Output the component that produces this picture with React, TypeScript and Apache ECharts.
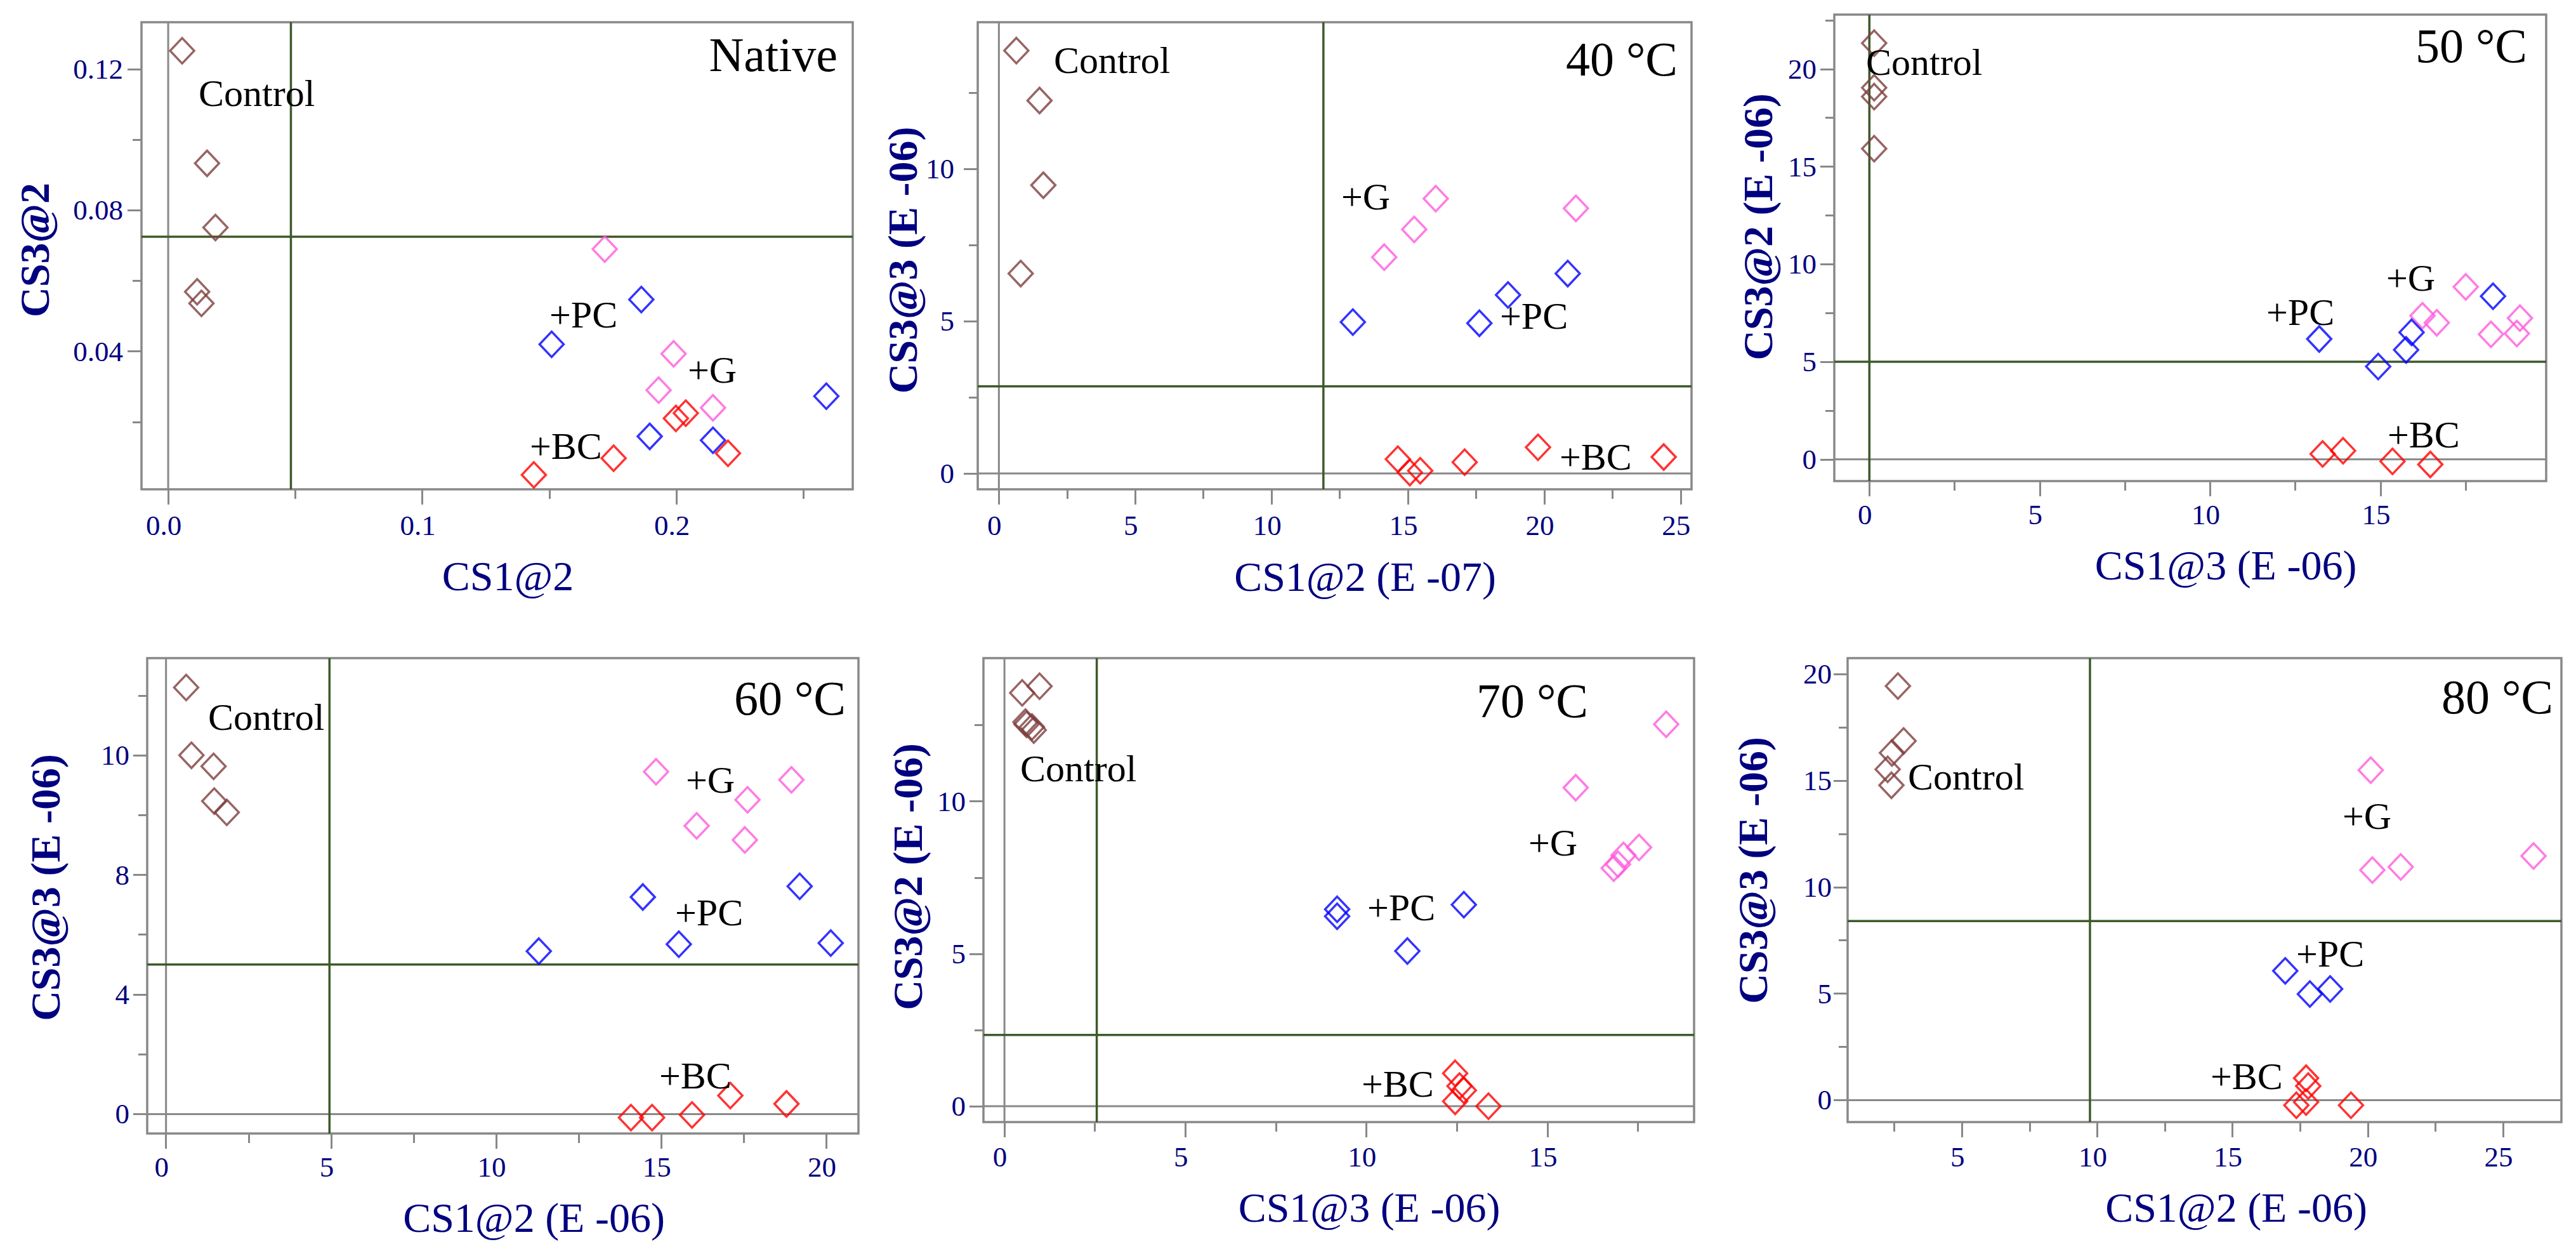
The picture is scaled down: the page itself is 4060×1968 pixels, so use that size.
import React, { useEffect, useRef } from 'react';
import * as echarts from 'echarts';

type Pt = [number, number];

// ---------- data ----------
// Native
const NATIVE_CONTROL: Pt[] = [[0.0055, 0.1252], [0.0153, 0.0933], [0.0186, 0.0751], [0.0114, 0.0569], [0.0131, 0.0536]];
const NATIVE_G: Pt[] = [[0.1718, 0.069], [0.1989, 0.0393], [0.193, 0.029], [0.2144, 0.024]];
const NATIVE_PC: Pt[] = [[0.1862, 0.0547], [0.1509, 0.042], [0.259, 0.0273], [0.1895, 0.0159], [0.2144, 0.0148]];
const NATIVE_BC: Pt[] = [[0.1998, 0.021], [0.2037, 0.0225], [0.1753, 0.0097], [0.1439, 0.005], [0.2203, 0.0111]];
// 40 °C
const T40_CONTROL: Pt[] = [[0.64, 13.88], [1.49, 12.24], [1.63, 9.46], [0.8, 6.56]];
const T40_G: Pt[] = [[16.02, 9.02], [15.23, 8.01], [14.13, 7.1], [21.16, 8.7]];
const T40_PC: Pt[] = [[12.98, 4.97], [17.62, 4.93], [18.67, 5.86], [20.86, 6.56]];
const T40_BC: Pt[] = [[14.63, 0.47], [15.07, 0.03], [15.45, 0.09], [17.08, 0.37], [19.77, 0.86], [24.38, 0.54]];
// 50 °C
const T50_CONTROL: Pt[] = [[0.14, 21.33], [0.14, 19.04], [0.14, 18.59], [0.14, 15.92]];
const T50_G: Pt[] = [[16.23, 7.36], [16.65, 7.0], [17.5, 8.84], [18.24, 6.41], [19.09, 7.24], [19.0, 6.45]];
const T50_PC: Pt[] = [[13.2, 6.17], [14.93, 4.76], [15.75, 5.61], [15.91, 6.51], [18.3, 8.36]];
const T50_BC: Pt[] = [[13.3, 0.28], [13.9, 0.44], [15.35, -0.1], [16.46, -0.26]];
// 60 °C
const T60_CONTROL: Pt[] = [[0.61, 14.27], [0.77, 12.0], [1.44, 11.63], [1.46, 10.47], [1.84, 10.09]];
const T60_G: Pt[] = [[14.84, 11.45], [16.07, 9.64], [17.61, 10.51], [17.53, 9.17], [18.94, 11.18]];
const T60_PC: Pt[] = [[11.29, 5.45], [14.44, 7.26], [15.53, 5.68], [19.19, 7.62], [20.13, 5.72]];
const T60_BC: Pt[] = [[14.08, -0.12], [14.72, -0.12], [15.93, -0.03], [17.09, 0.62], [18.79, 0.34]];
// 70 °C
const T70_CONTROL: Pt[] = [[0.49, 13.56], [0.97, 13.78], [0.61, 12.53], [0.76, 12.44], [0.58, 12.6], [0.81, 12.34]];
const T70_G: Pt[] = [[18.28, 12.53], [15.78, 10.45], [17.53, 8.49], [17.1, 8.23], [16.95, 7.94], [16.83, 7.81]];
const T70_PC: Pt[] = [[9.19, 6.46], [9.19, 6.23], [12.69, 6.61], [11.13, 5.09]];
const T70_BC: Pt[] = [[12.45, 1.08], [12.57, 0.66], [12.69, 0.52], [12.45, 0.16], [13.37, 0.0]];
// 80 °C
const T80_CONTROL: Pt[] = [[2.63, 19.44], [2.84, 16.86], [2.41, 16.3], [2.25, 15.53], [2.39, 14.78]];
const T80_G: Pt[] = [[20.11, 15.49], [20.17, 10.8], [21.22, 10.95], [26.13, 11.46]];
const T80_PC: Pt[] = [[16.95, 6.07], [17.86, 4.98], [18.61, 5.22]];
const T80_BC: Pt[] = [[17.72, 1.03], [17.8, 0.66], [17.72, -0.09], [17.36, -0.24], [19.38, -0.24]];

const GROUPS = ['Control', '+G', '+PC', '+BC'];
const PANEL_DATA: Pt[][][] = [
  [NATIVE_CONTROL, NATIVE_G, NATIVE_PC, NATIVE_BC],
  [T40_CONTROL, T40_G, T40_PC, T40_BC],
  [T50_CONTROL, T50_G, T50_PC, T50_BC],
  [T60_CONTROL, T60_G, T60_PC, T60_BC],
  [T70_CONTROL, T70_G, T70_PC, T70_BC],
  [T80_CONTROL, T80_G, T80_PC, T80_BC],
];

const PANEL_TITLES = ['Native', '40 °C', '50 °C', '60 °C', '70 °C', '80 °C'];
const X_TITLES = ['CS1@2', 'CS1@2 (E -07)', 'CS1@3 (E -06)', 'CS1@2 (E -06)', 'CS1@3 (E -06)', 'CS1@2 (E -06)'];
const Y_TITLES = ['CS3@2', 'CS3@3 (E -06)', 'CS3@2 (E -06)', 'CS3@3 (E -06)', 'CS3@2 (E -06)', 'CS3@3 (E -06)'];

const X_RANGES: Pt[] = [[-0.0105, 0.2694], [-0.776, 25.4], [-1.03, 19.86], [-0.57, 20.97], [-0.58, 19.05], [0.77, 27.16]];
const Y_RANGES: Pt[] = [[0.0009, 0.1333], [-0.52, 14.81], [-1.11, 22.79], [-0.65, 15.25], [-0.52, 14.7], [-1.03, 20.75]];

const X_TICKS: number[][] = [[0, 0.1, 0.2], [0, 5, 10, 15, 20, 25], [0, 5, 10, 15], [0, 5, 10, 15, 20], [0, 5, 10, 15], [5, 10, 15, 20, 25]];
const X_TICK_LABELS: string[][] = [
  ['0.0', '0.1', '0.2'], ['0', '5', '10', '15', '20', '25'], ['0', '5', '10', '15'],
  ['0', '5', '10', '15', '20'], ['0', '5', '10', '15'], ['5', '10', '15', '20', '25'],
];
const Y_TICKS: number[][] = [[0.04, 0.08, 0.12], [0, 5, 10], [0, 5, 10, 15, 20], [0, 4, 8, 12], [0, 5, 10], [0, 5, 10, 15, 20]];
const Y_TICK_LABELS: string[][] = [
  ['0.04', '0.08', '0.12'], ['0', '5', '10'], ['0', '5', '10', '15', '20'],
  ['0', '4', '8', '10'], ['0', '5', '10'], ['0', '5', '10', '15', '20'],
];
const X_STEP = [0.1, 5, 5, 5, 5, 5];
const Y_STEP = [0.04, 5, 5, 4, 5, 5];

const GREEN_X = [0.0483, 11.9, 0, 4.95, 2.55, 9.73];
const GREEN_Y = [0.0725, 2.86, 5.0, 5.0, 2.34, 8.41];

// ---------- layout & style ----------
const FONT = '"Liberation Serif", "Times New Roman", serif';
const NAVY = '#000080';
const GRAY = '#888888';
const GREEN = '#3D5A2A';
const GROUP_COLORS = ['#7D3F3D', '#FF5ADC', '#0000FF', '#FF0000'];

const GRIDS = [
  { left: 223, top: 35, width: 1121, height: 736 },
  { left: 1541, top: 35, width: 1125, height: 736 },
  { left: 2891, top: 23, width: 1122, height: 735 },
  { left: 232, top: 1037, width: 1121, height: 749 },
  { left: 1550, top: 1037, width: 1120, height: 731 },
  { left: 2912, top: 1037, width: 1125, height: 731 },
];
const Y_NAME_GAP = [136, 82, 88, 128, 87, 117];
const Y_NAME_UP = [9, -7, 33, 13, 21, 31];
const X_NAME_SHIFT = [17, 48, 56, 49, 48, 50];
const X_NAME_GAP = [103, 104, 99, 99, 101, 101];
const Y_LABEL_MARGIN = [29, 37, 28, 28, 28, 25];
const X_LABEL_MARGIN = [34, 34, 30, 30, 32, 32];

// annotation anchors: [left x, middle y] for groups, [right x, middle y] for title
const ANNOT_POS: Pt[][] = [
  [[313, 147], [1084, 583], [866, 496], [835, 703]],
  [[1661, 95], [2114, 310], [2364, 498], [2458, 720]],
  [[2941, 98], [3761, 438], [3572, 492], [3763, 685]],
  [[328, 1130], [1081, 1229], [1064, 1438], [1039, 1695]],
  [[1608, 1211], [2409, 1328], [2155, 1430], [2146, 1708]],
  [[3007, 1224], [3692, 1286], [3619, 1503], [3484, 1696]],
];
const TITLE_POS: Pt[] = [[1320, 86], [2644, 93], [3983, 72], [1333, 1100], [2503, 1104], [4024, 1098]];

function lookup(ticks: number[], labels: string[]) {
  return (v: number) => {
    const i = ticks.findIndex((t) => Math.abs(t - v) < 1e-9);
    return i >= 0 ? labels[i] : '';
  };
}

function buildOption() {
  const grid: any[] = [];
  const xAxis: any[] = [];
  const yAxis: any[] = [];
  const series: any[] = [];
  const graphic: any[] = [];

  for (let i = 0; i < 6; i++) {
    grid.push({ ...GRIDS[i], show: true, borderColor: GRAY, borderWidth: 3.5, backgroundColor: 'transparent' });
    const [x0, x1] = X_RANGES[i];
    const [y0, y1] = Y_RANGES[i];
    const tickStyle = { color: GRAY, width: 3 };
    xAxis.push({
      type: 'value', gridIndex: i, min: x0, max: x1, position: 'bottom',
      minInterval: X_STEP[i], maxInterval: X_STEP[i],
      axisLine: { show: false, onZero: false },
      axisTick: { show: true, customValues: X_TICKS[i], length: 24, lineStyle: tickStyle },
      minorTick: { show: true, splitNumber: 2, length: 15, lineStyle: tickStyle },
      axisLabel: {
        customValues: X_TICKS[i], formatter: lookup(X_TICKS[i], X_TICK_LABELS[i]),
        margin: X_LABEL_MARGIN[i], fontFamily: FONT, fontSize: 45, color: NAVY, padding: [0, 14, 0, 0],
      },
      splitLine: { show: false }, minorSplitLine: { show: false },
      name: X_TITLES[i], nameLocation: 'middle', nameGap: X_NAME_GAP[i],
      nameTextStyle: { fontFamily: FONT, fontSize: 66, color: NAVY, padding: [0, 0, 0, 2 * X_NAME_SHIFT[i]] },
    });
    const up = Y_NAME_UP[i];
    yAxis.push({
      type: 'value', gridIndex: i, min: y0, max: y1, position: 'left',
      minInterval: Y_STEP[i], maxInterval: Y_STEP[i],
      axisLine: { show: false, onZero: false },
      axisTick: { show: true, customValues: Y_TICKS[i], length: 22, lineStyle: tickStyle },
      minorTick: { show: true, splitNumber: 2, length: 14, lineStyle: tickStyle },
      axisLabel: {
        customValues: Y_TICKS[i], formatter: lookup(Y_TICKS[i], Y_TICK_LABELS[i]),
        margin: Y_LABEL_MARGIN[i], fontFamily: FONT, fontSize: 45, color: NAVY, padding: [14, 0, 0, 0],
      },
      splitLine: { show: false }, minorSplitLine: { show: false },
      name: Y_TITLES[i], nameLocation: 'middle', nameGap: Y_NAME_GAP[i],
      nameTextStyle: {
        fontFamily: FONT, fontSize: 66, fontWeight: 'bold', color: NAVY,
        padding: up >= 0 ? [0, 0, 0, 2 * up] : [0, -2 * up, 0, 0],
      },
    });

    const refLine = (data: Pt[], color: string, width: number, z: number) => ({
      type: 'line', xAxisIndex: i, yAxisIndex: i, data, symbol: 'none', silent: true, z,
      lineStyle: { color, width }, emphasis: { disabled: true }, animation: false,
    });
    if (x0 < 0 && x1 > 0) series.push(refLine([[0, y0], [0, y1]], GRAY, 3, 1));
    if (y0 < 0 && y1 > 0) series.push(refLine([[x0, 0], [x1, 0]], GRAY, 3, 1));
    series.push(refLine([[GREEN_X[i], y0], [GREEN_X[i], y1]], GREEN, 3.5, 2));
    series.push(refLine([[x0, GREEN_Y[i]], [x1, GREEN_Y[i]]], GREEN, 3.5, 2));

    PANEL_DATA[i].forEach((pts, g) => {
      series.push({
        type: 'scatter', name: GROUPS[g], xAxisIndex: i, yAxisIndex: i, data: pts,
        symbol: 'diamond', symbolSize: [38, 40], z: 3, silent: true,
        itemStyle: { color: 'rgba(0,0,0,0)', borderColor: GROUP_COLORS[g], borderWidth: 3.5 },
        emphasis: { disabled: true },
      });
      const [ax, ay] = ANNOT_POS[i][g];
      graphic.push({
        type: 'text', x: ax, y: ay, z: 10, silent: true,
        style: {
          text: GROUPS[g], font: `60px ${FONT}`, fill: '#000',
          align: 'left', verticalAlign: 'middle', textAlign: 'left', textVerticalAlign: 'middle',
        },
      });
    });
    const [tx, ty] = TITLE_POS[i];
    graphic.push({
      type: 'text', x: tx, y: ty, z: 10, silent: true,
      style: {
        text: PANEL_TITLES[i], font: `76px ${FONT}`, fill: '#000',
        align: 'right', verticalAlign: 'middle', textAlign: 'right', textVerticalAlign: 'middle',
      },
    });
  }

  return {
    animation: false,
    backgroundColor: '#ffffff',
    grid, xAxis, yAxis, series, graphic,
  };
}

export default function App() {
  const ref = useRef<HTMLDivElement>(null);
  useEffect(() => {
    if (!ref.current) return;
    const chart = echarts.init(ref.current, undefined, { renderer: 'svg' });
    chart.setOption(buildOption() as any);
    return () => chart.dispose();
  }, []);
  return (
    <div
      ref={ref}
      style={{ position: 'absolute', left: 0, top: 0, width: '4060px', height: '1968px', background: '#fff' }}
    />
  );
}
